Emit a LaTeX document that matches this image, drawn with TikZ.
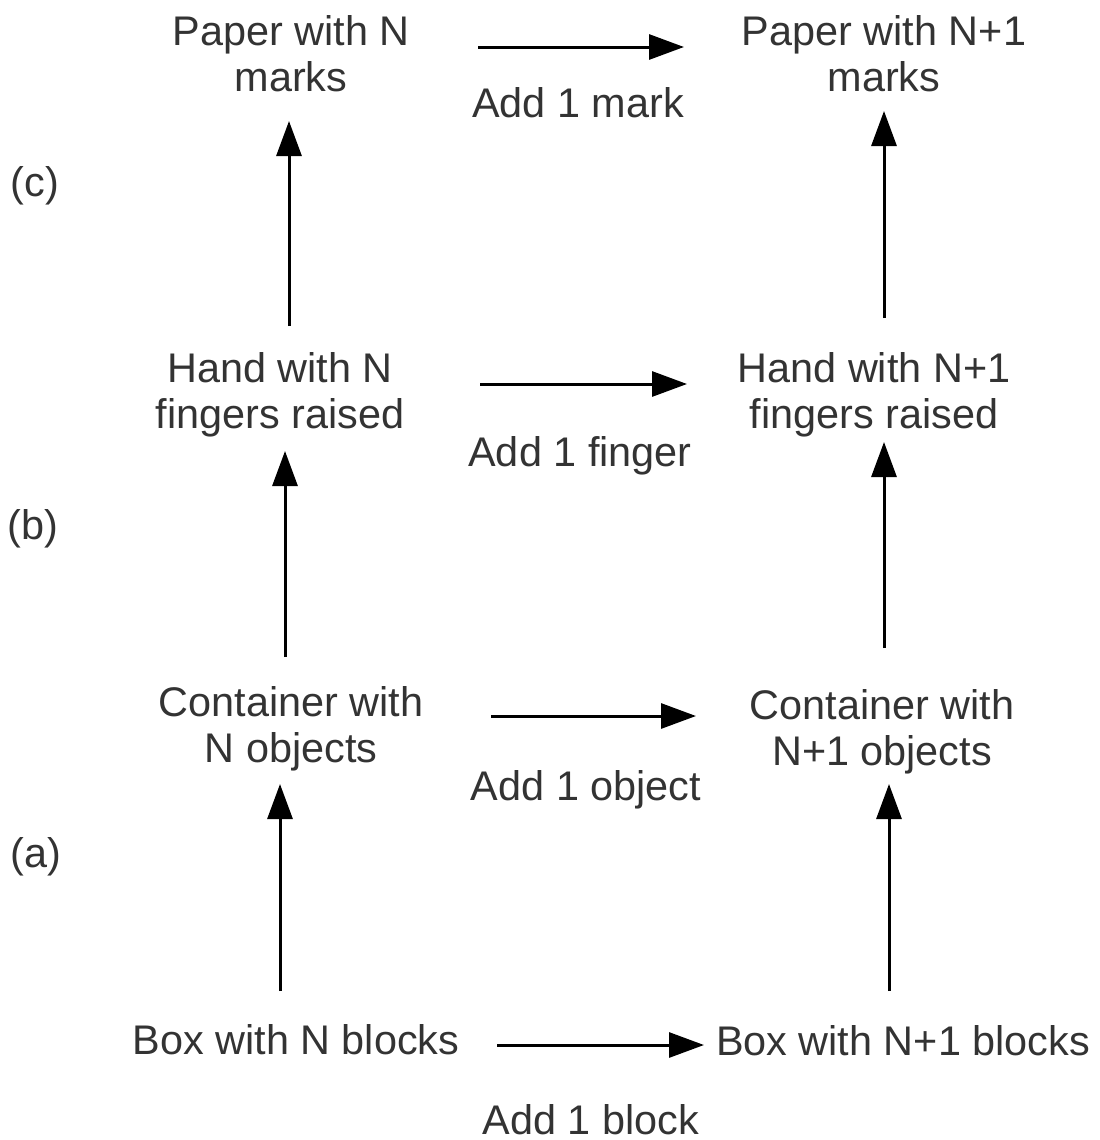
\documentclass[tikz,border=0pt]{standalone}
\usepackage{fontspec}
\setmainfont{Liberation Sans}
\usetikzlibrary{arrows.meta}
\definecolor{txt}{HTML}{333333}
\begin{document}
\begin{tikzpicture}[x=0.5pt,y=-0.5pt,
  lbl/.style={text=txt,font=\fontsize{20.7}{23}\selectfont,align=center,inner sep=0pt},
  arr/.style={line width=1.5pt,-{Triangle[length=17.5pt,width=12.5pt]}}]
\useasboundingbox (0,0) rectangle (1099,1140);
% row nodes
\node[lbl] (pn)  at (291,54) {Paper with N\\marks};
\node[lbl] (pn1) at (884,54) {Paper with N+1\\marks};
\node[lbl] (hn)  at (280,395) {Hand with N\\fingers raised};
\node[lbl] (hn1) at (874,395) {Hand with N+1\\fingers raised};
\node[lbl] (cn)  at (291,729) {Container with\\N objects};
\node[lbl] (cn1) at (882,732) {Container with\\N+1 objects};
\node[lbl] (bn)  at (296,1040) {Box with N blocks};
\node[lbl] (bn1) at (903,1041) {Box with N+1 blocks};
% edge labels
\node[lbl] (l1) at (578,103) {Add 1 mark};
\node[lbl] (l2) at (580,456) {Add 1 finger};
\node[lbl] (l3) at (586,790) {Add 1 object};
\node[lbl] (l4) at (591,1120) {Add 1 block};
% side labels
\node[lbl] (c) at (35,186) {(c)};
\node[lbl] (b) at (33,529) {(b)};
\node[lbl] (a) at (36,857) {(a)};
% arrow end points
\coordinate (h1s) at (478,47);  \coordinate (h1e) at (684,47);
\coordinate (h2s) at (480,384); \coordinate (h2e) at (687,384);
\coordinate (h3s) at (491,716); \coordinate (h3e) at (696,716);
\coordinate (h4s) at (497,1045);\coordinate (h4e) at (704,1045);
\coordinate (v1s) at (289,326); \coordinate (v1e) at (289,121);
\coordinate (v2s) at (884,318); \coordinate (v2e) at (884,111);
\coordinate (v3s) at (285,657); \coordinate (v3e) at (285,451);
\coordinate (v4s) at (884,648); \coordinate (v4e) at (884,442);
\coordinate (v5s) at (280,991); \coordinate (v5e) at (280,784);
\coordinate (v6s) at (889,991); \coordinate (v6e) at (889,784);
\draw[arr] (h1s) -- (h1e);
\draw[arr] (h2s) -- (h2e);
\draw[arr] (h3s) -- (h3e);
\draw[arr] (h4s) -- (h4e);
\draw[arr] (v1s) -- (v1e);
\draw[arr] (v2s) -- (v2e);
\draw[arr] (v3s) -- (v3e);
\draw[arr] (v4s) -- (v4e);
\draw[arr] (v5s) -- (v5e);
\draw[arr] (v6s) -- (v6e);
\end{tikzpicture}
\end{document}
